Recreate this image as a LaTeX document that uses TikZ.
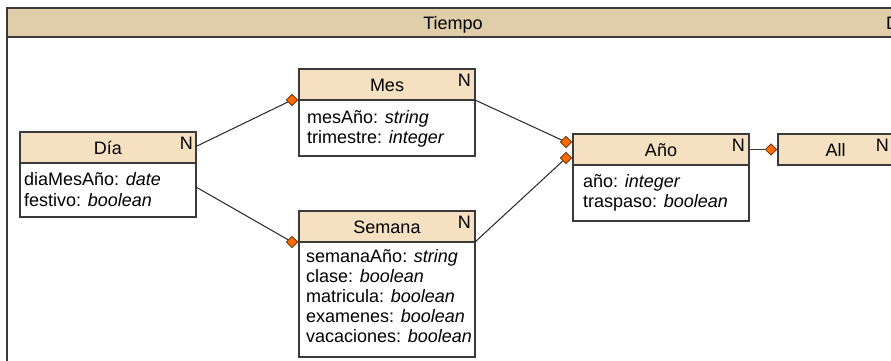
\documentclass[tikz,border=0pt]{standalone}
\usepackage{fontspec}
\setmainfont{Liberation Sans}
\usetikzlibrary{shapes.geometric}
\definecolor{framefill}{HTML}{E0CDAA}
\definecolor{hdrfill}{HTML}{F5E1C1}
\definecolor{edgecol}{HTML}{3A3A3A}
\definecolor{diacol}{HTML}{FF6A00}
\definecolor{diaborder}{HTML}{5A2A00}
\begin{document}
\begin{tikzpicture}[x=1pt,y=-1pt,
 hdr/.style={draw=edgecol, line width=1.3pt, fill=hdrfill, minimum height=31pt, inner sep=0pt, outer sep=0pt,
   text height=13pt, text depth=0pt, font=\fontsize{18}{20}\selectfont, anchor=north west},
 bodybox/.style={draw=edgecol, line width=1.3pt, fill=white, inner sep=0pt, outer sep=0pt, anchor=north},
 attr/.style={inner sep=0pt, anchor=base west, font=\fontsize{18}{20}\selectfont},
 nmark/.style={inner sep=0pt, anchor=north east, font=\fontsize{18}{20}\selectfont},
 agg/.style={diamond, draw=diaborder, fill=diacol, inner sep=0pt, minimum width=11.5pt,
   minimum height=11.5pt, line width=0.7pt},
 conn/.style={draw=black!85, line width=1pt}
]
\useasboundingbox (0,0) rectangle (891,360);
\clip (0,0) rectangle (891,360);
\fill[white] (0,0) rectangle (891,360);
% package frame
\draw[draw=edgecol, line width=2pt, fill=white] (7,8) rectangle (910,380);
\draw[draw=edgecol, line width=2pt, fill=framefill] (7,8) rectangle (910,37);
\node[inner sep=0pt, font=\fontsize{18}{20}\selectfont, text height=13pt, text depth=0pt] (tiempo) at (453,22.5) {Tiempo};
\node[inner sep=0pt, anchor=west, font=\fontsize{18}{20}\selectfont, text height=13pt, text depth=0pt] (dlabel) at (886,22.5) {D};

% Dia
\node[hdr, minimum width=176pt] (diaH) at (20,132) {Día};
\node[bodybox, minimum width=176pt, minimum height=54pt] (diaB) at (diaH.south) {};
\node[nmark] (diaN) at ([xshift=-3pt,yshift=-5pt]diaH.north east) {N};
\node[attr] (dia1) at (24,185) {diaMesAño: \textit{date}};
\node[attr] (dia2) at (24,206) {festivo: \textit{boolean}};

% Mes
\node[hdr, minimum width=176pt] (mesH) at (299,69) {Mes};
\node[bodybox, minimum width=176pt, minimum height=56pt] (mesB) at (mesH.south) {};
\node[nmark] (mesN) at ([xshift=-4pt,yshift=-5pt]mesH.north east) {N};
\node[attr] (mes1) at (307,123) {mesAño: \textit{string}};
\node[attr] (mes2) at (307,143) {trimestre: \textit{integer}};

% Semana
\node[hdr, minimum width=176pt] (semH) at (299,211) {Semana};
\node[bodybox, minimum width=176pt, minimum height=115pt] (semB) at (semH.south) {};
\node[nmark] (semN) at ([xshift=-4pt,yshift=-5pt]semH.north east) {N};
\node[attr] (sem1) at (306,262) {semanaAño: \textit{string}};
\node[attr] (sem2) at (306,282) {clase: \textit{boolean}};
\node[attr] (sem3) at (306,302) {matricula: \textit{boolean}};
\node[attr] (sem4) at (306,322) {examenes: \textit{boolean}};
\node[attr] (sem5) at (306,342) {vacaciones: \textit{boolean}};

% Anio
\node[hdr, minimum width=176pt] (anoH) at (573,134) {Año};
\node[bodybox, minimum width=176pt, minimum height=56pt] (anoB) at (anoH.south) {};
\node[nmark] (anoN) at ([xshift=-4pt,yshift=-5pt]anoH.north east) {N};
\node[attr] (ano1) at (583,187) {año: \textit{integer}};
\node[attr] (ano2) at (583,207) {traspaso: \textit{boolean}};

% All
\node[hdr, minimum width=115pt] (allH) at (778,134) {All};
\node[nmark] (allN) at ([xshift=-4pt,yshift=-5pt]allH.north east) {N};

% diamonds
\node[agg] (mesD) at ([xshift=-7pt]mesH.south west) {};
\node[agg] (semD) at ([xshift=-7pt]semH.south west) {};
\node[agg] (anoD1) at ([xshift=-7pt,yshift=-8pt]anoH.north west) {};
\node[agg] (anoD2) at ([xshift=-7pt,yshift=7pt]anoH.south west) {};
\node[agg] (allD) at ([xshift=-7pt]allH.west) {};

% connectors
\draw[conn] ([yshift=1pt]diaH.east) -- (mesD);
\draw[conn] ([yshift=3pt]diaB.east) -- (semD);
\draw[conn] (mesH.south east) -- (anoD1);
\draw[conn] (semH.south east) -- (anoD2);
\draw[conn, draw=edgecol, line width=1.3pt] (anoH.east) -- (allD);
\end{tikzpicture}
\end{document}
